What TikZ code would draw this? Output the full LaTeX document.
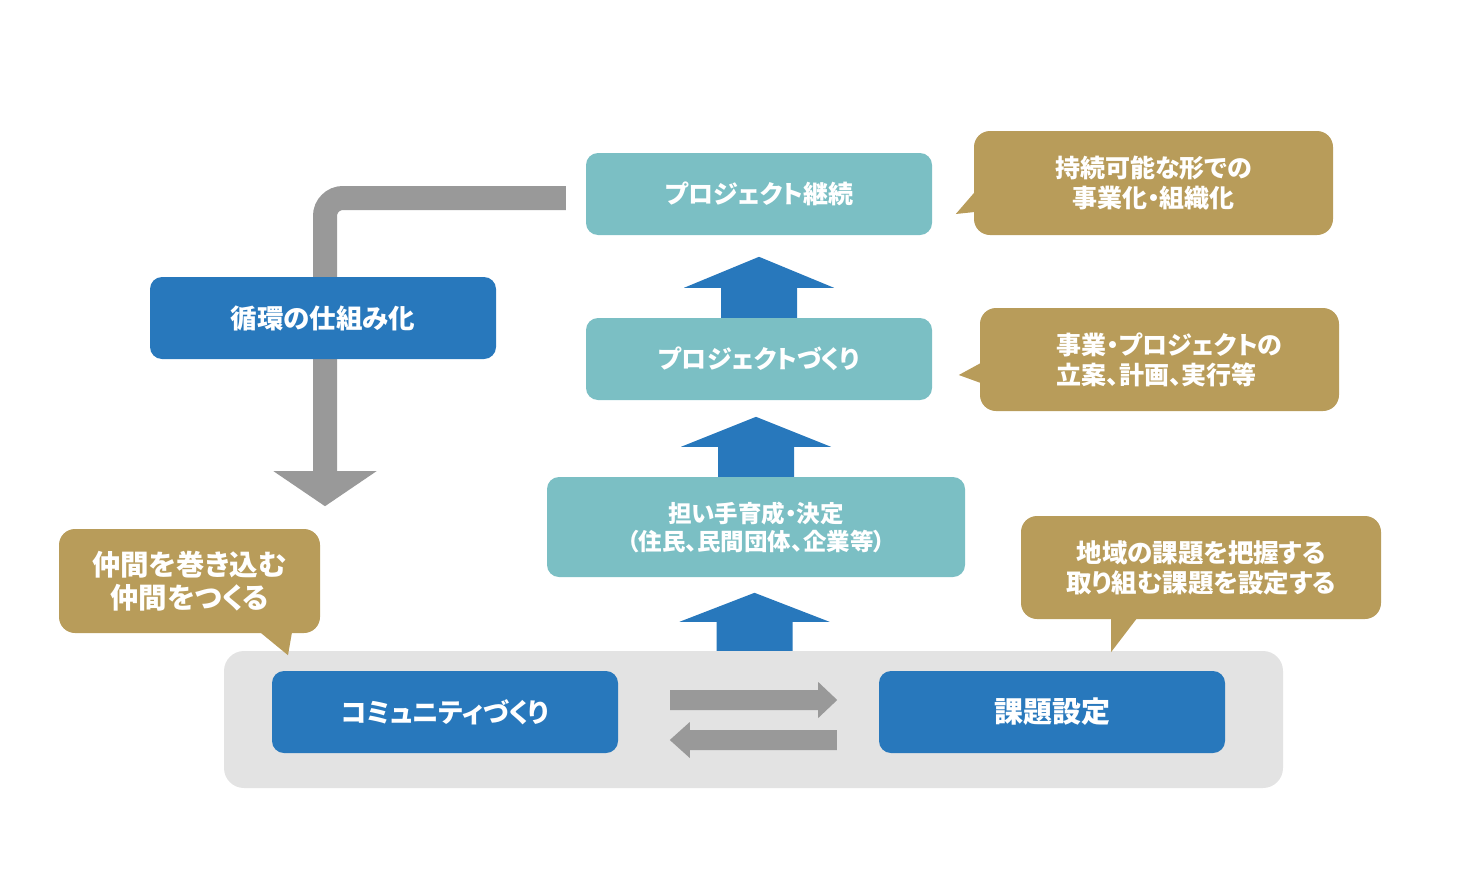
\documentclass[tikz,border=0pt]{standalone}
\usepackage{fontspec}
\newfontfamily\jp[RawFeature=+palt]{Noto Sans CJK JP}
\usetikzlibrary{calc,backgrounds}
\definecolor{tealbox}{HTML}{7BBFC4}
\definecolor{bluebox}{HTML}{2878BC}
\definecolor{goldbox}{HTML}{B89C5A}
\definecolor{arrowgray}{HTML}{999999}
\definecolor{bggray}{HTML}{E3E3E3}
\tikzset{
  box/.style={rounded corners=12, inner sep=0pt, align=center, text=white, font=\jp\bfseries\fontsize{25}{30}\selectfont},
  tbox/.style={box, fill=tealbox, minimum width=346, minimum height=82},
  bbox/.style={box, fill=bluebox, minimum width=346, minimum height=82},
  callout/.style={box, fill=goldbox, rounded corners=16},
  uparrow/.style={fill=bluebox},
  grayarr/.style={fill=arrowgray},
}
\begin{document}
\begin{tikzpicture}[x=1pt,y=-1pt]
\useasboundingbox (0,0) rectangle (1457,881);
% background panel
\node[fill=bggray, rounded corners=20, minimum width=1059, minimum height=137, inner sep=0pt] (bg) at (753.5,719.5) {};
% main boxes
\node[tbox] (pb) at (759,194) {プロジェクト継続};
\node[tbox] (pc) at (759,359) {プロジェクトづくり};
\node[tbox, minimum width=418, minimum height=100, font=\jp\bfseries\fontsize{23.5}{28}\selectfont] (pd) at (756,527) {担い手育成・決定\\（住民、民間団体、企業等）};
\node[bbox, font=\jp\bfseries\fontsize{26.5}{30}\selectfont] (cm) at (445,712) {コミュニティづくり};
\node[bbox, font=\jp\bfseries\fontsize{29}{30}\selectfont] (kd) at (1052,712) {課題設定};
\node[bbox, font=\jp\bfseries\fontsize{26.5}{30}\selectfont] (jn) at (323,318) {循環の仕組み化};
% callouts
\node[callout, minimum width=359, minimum height=104] (c1) at (1153.5,183) {持続可能な形での\\事業化・組織化};
\node[callout, minimum width=359, minimum height=103, align=left] (c2) at (1159.5,359.5) {\hspace*{20pt}事業・プロジェクトの\\\hspace*{20pt}立案、計画、実行等};
\node[callout, minimum width=261, minimum height=104, font=\jp\bfseries\fontsize{28.5}{33}\selectfont] (c3) at (189.5,581) {仲間を巻き込む\\仲間をつくる};
\node[callout, minimum width=360, minimum height=103, font=\jp\bfseries\fontsize{25.5}{30}\selectfont] (c4) at (1201,567.5) {地域の課題を把握する\\取り組む課題を設定する};
% callout tails
\fill[goldbox] ($(c1.west)+(1,9)$) -- ($(c1.west)+(-18,31)$) -- ($(c1.west)+(1,29)$) -- cycle;
\fill[goldbox] ($(c2.west)+(1,3.5)$) -- ($(c2.west)+(-21,15.5)$) -- ($(c2.west)+(1,23.5)$) -- cycle;
\fill[goldbox] ($(c3.south)+(70.5,-1)$) -- ($(c3.south)+(98.5,22)$) -- ($(c3.south)+(102.5,-1)$) -- cycle;
\fill[goldbox] ($(c4.south)+(-90,-1)$) -- ($(c4.south)+(-90,33)$) -- ($(c4.south)+(-64,-1)$) -- cycle;
% blue up arrows
\fill[uparrow] ($(pc.north)+(-38,0)$) -- ($(pc.north)+(-38,-30)$) -- ($(pc.north)+(-75,-30)$) -- ($(pc.north)+(0,-61)$) -- ($(pc.north)+(75,-30)$) -- ($(pc.north)+(38,-30)$) -- ($(pc.north)+(38,0)$) -- cycle;
\fill[uparrow] ($(pd.north)+(-38,0)$) -- ($(pd.north)+(-38,-30)$) -- ($(pd.north)+(-75,-30)$) -- ($(pd.north)+(0,-60)$) -- ($(pd.north)+(75,-30)$) -- ($(pd.north)+(38,-30)$) -- ($(pd.north)+(38,0)$) -- cycle;
\fill[uparrow] ($(bg.north)+(-37,0)$) -- ($(bg.north)+(-37,-29)$) -- ($(bg.north)+(-74,-29)$) -- ($(bg.north)+(1,-58)$) -- ($(bg.north)+(76,-29)$) -- ($(bg.north)+(39,-29)$) -- ($(bg.north)+(39,0)$) -- cycle;
% gray exchange arrows
\fill[grayarr] ($(cm.east)+(52,-22)$) -- ($(cm.east)+(200,-22)$) -- ($(cm.east)+(200,-30)$) -- ($(cm.east)+(219,-12)$) -- ($(cm.east)+(200,6)$) -- ($(cm.east)+(200,-2)$) -- ($(cm.east)+(52,-2)$) -- cycle;
\fill[grayarr] ($(kd.west)+(-42,18)$) -- ($(kd.west)+(-189,18)$) -- ($(kd.west)+(-189,10)$) -- ($(kd.west)+(-209,28)$) -- ($(kd.west)+(-189,46)$) -- ($(kd.west)+(-189,38)$) -- ($(kd.west)+(-42,38)$) -- cycle;
% loop arrow behind
\coordinate (loopstart) at ($(pb.west)+(-20,4)$);
\coordinate (loopend) at ($(jn.south)+(2,112)$);
\begin{pgfonlayer}{background}
\draw[arrowgray, line width=24, rounded corners=18] (loopstart) -| (loopend);
\fill[grayarr] ($(loopend)+(-51.5,0)$) -- ($(loopend)+(51.5,0)$) -- ($(loopend)+(0,35)$) -- cycle;
\end{pgfonlayer}
\end{tikzpicture}
\end{document}
